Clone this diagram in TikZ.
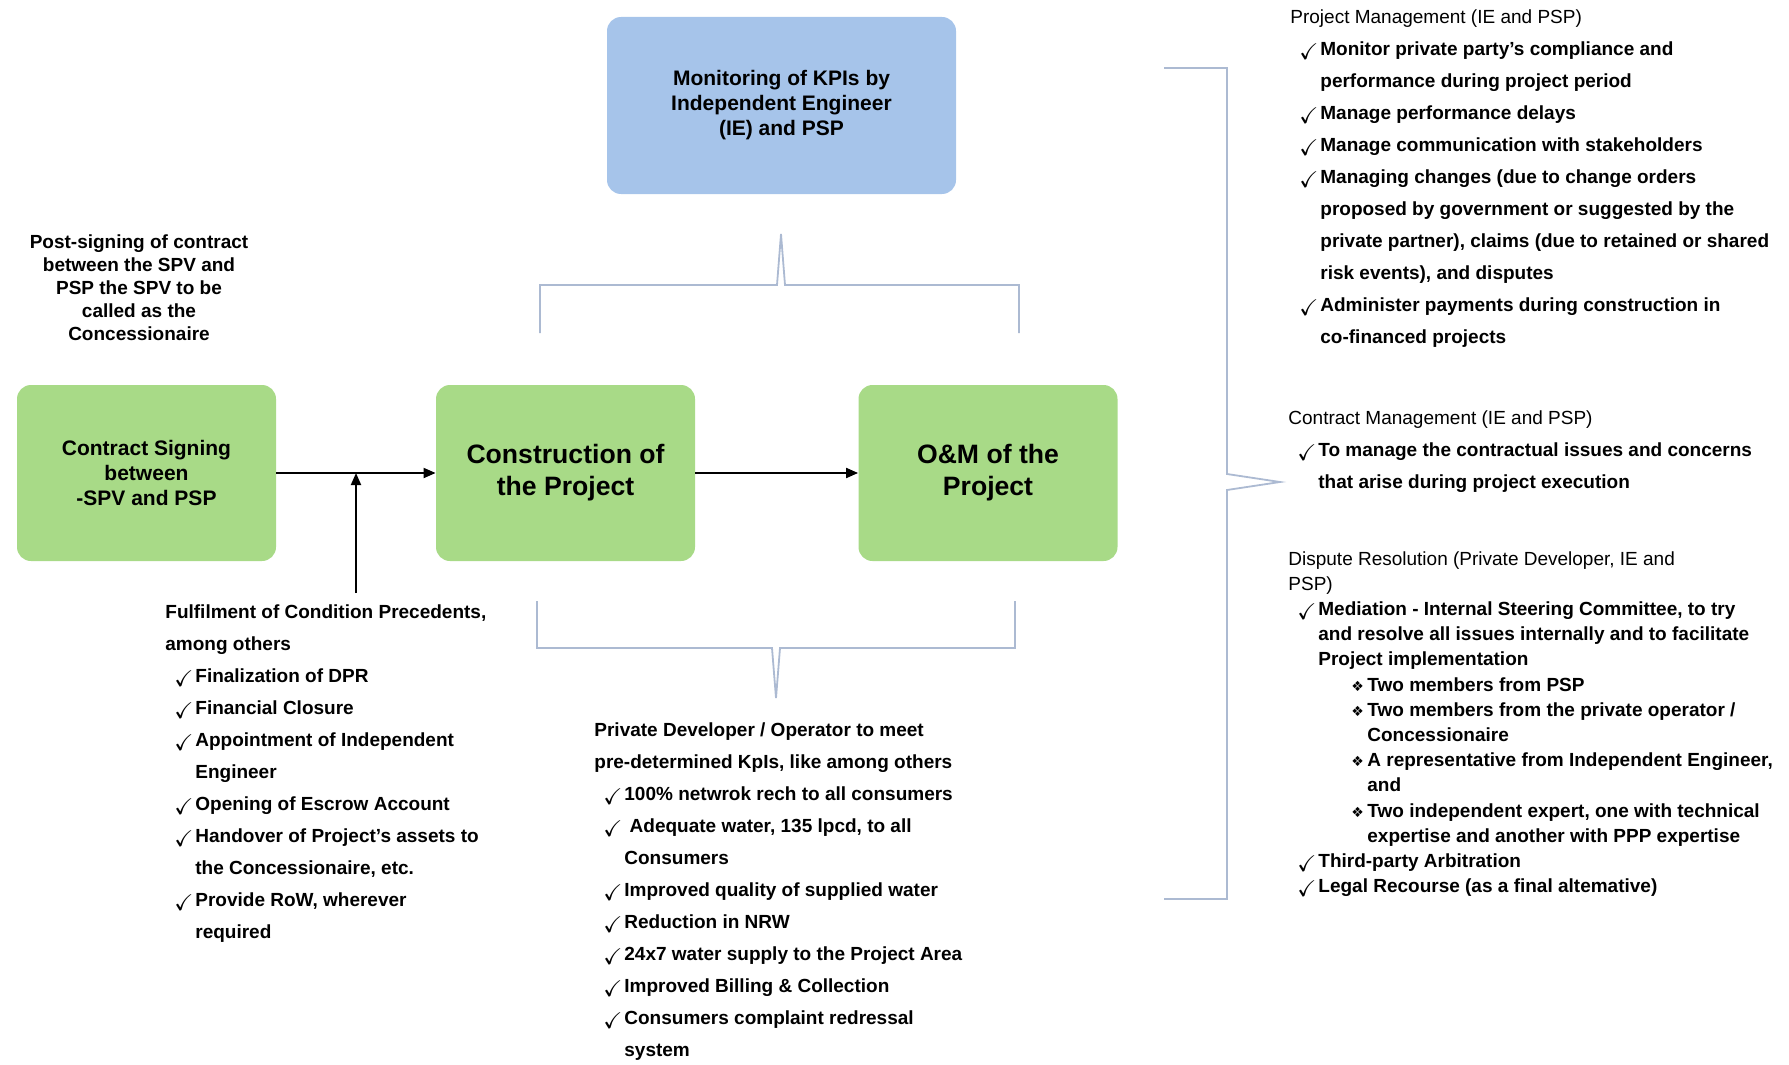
\documentclass[tikz,border=0pt]{standalone}
\usepackage{amssymb}
\usepackage{graphicx}
\usepackage{fontspec}
\setmainfont{Liberation Sans}
\newfontfamily\symfont{DejaVu Sans}
\usepackage{tikz}
\usetikzlibrary{positioning, arrows.meta}

\definecolor{stagegreen}{RGB}{168,218,135}
\definecolor{kpiblue}{RGB}{166,196,234}
\definecolor{bracketgray}{RGB}{172,186,210}

% list helpers
\newcommand{\chk}{\hspace*{4.5pt}\makebox[10.5pt][l]{\raisebox{-2pt}{\scalebox{1.2}{$\checkmark$}}}}
\newcommand{\cnt}{\hspace*{15pt}}
\newcommand{\dia}{\hspace*{31.5pt}\makebox[8pt][l]{\symfont\scriptsize ❖}}
\newcommand{\dcnt}{\hspace*{39.5pt}}

\begin{document}
\begin{tikzpicture}[x=0.5pt, y=-0.5pt,
    stagebox/.style={fill=stagegreen, rounded corners=7pt, minimum width=129.5pt, minimum height=88pt, align=center, font=\fontsize{13.3}{16}\selectfont\bfseries},
    kpibox/.style={fill=kpiblue, rounded corners=7pt, minimum width=174.5pt, minimum height=88.5pt, align=center, font=\fontsize{10.5}{12.5}\selectfont\bfseries},
    listnote/.style={anchor=north west, inner sep=0pt, align=left, font=\fontsize{9.5}{16}\selectfont\bfseries},
    flow/.style={line width=0.9pt, -{Triangle[length=6pt, width=5pt]}},
    brk/.style={draw=bracketgray, line width=0.9pt}
]
\useasboundingbox (0,0) rectangle (1789,1065);

\node[kpibox] (kpi) at (781.5,105.5) {Monitoring of KPIs by\\Independent Engineer\\(IE) and PSP};
\node[stagebox, font=\fontsize{10.5}{12.5}\selectfont\bfseries] (sign) at (146.5,473) {Contract Signing\\between\\-SPV and PSP};
\node[stagebox] (build) at (565.5,473) {Construction of\\the Project};
\node[stagebox] (operate) at (988,473) {O\&M of the\\Project};

\node[anchor=north, inner sep=0pt, align=center, font=\fontsize{9.5}{11.5}\selectfont\bfseries] (postnote) at (139,234)
    {Post-signing of contract\\between the SPV and\\PSP the SPV to be\\called as the\\Concessionaire};

\node[listnote] (cpnote) at (165,604) {%
Fulfilment of Condition Precedents,\\
among others\\
\chk Finalization of DPR\\
\chk Financial Closure\\
\chk Appointment of Independent\\
\cnt Engineer\\
\chk Opening of Escrow Account\\
\chk Handover of Project's assets to\\
\cnt the Concessionaire, etc.\\
\chk Provide RoW, wherever\\
\cnt required};

\node[listnote] (kpinote) at (594,722) {%
Private Developer / Operator to meet\\
pre-determined KpIs, like among others\\
\chk 100\% netwrok rech to all consumers\\
\chk \ Adequate water, 135 lpcd, to all\\
\cnt Consumers\\
\chk Improved quality of supplied water\\
\chk Reduction in NRW\\
\chk 24x7 water supply to the Project Area\\
\chk Improved Billing \& Collection\\
\chk Consumers complaint redressal\\
\cnt system};

\node[listnote] (pmnote) at (1290,9) {%
\textmd{Project Management (IE and PSP)}\\
\chk Monitor private party's compliance and\\
\cnt performance during project period\\
\chk Manage performance delays\\
\chk Manage communication with stakeholders\\
\chk Managing changes (due to change orders\\
\cnt proposed by government or suggested by the\\
\cnt private partner), claims (due to retained or shared\\
\cnt risk events), and disputes\\
\chk Administer payments during construction in\\
\cnt co-financed projects};

\node[listnote] (cmnote) at (1288,410) {%
\textmd{Contract Management (IE and PSP)}\\
\chk To manage the contractual issues and concerns\\
\cnt that arise during project execution};

\node[listnote, font=\fontsize{9.5}{12.6}\selectfont\bfseries] (drnote) at (1288,551) {%
\textmd{Dispute Resolution (Private Developer, IE and}\\
\textmd{PSP)}\\
\chk Mediation - Internal Steering Committee, to try\\
\cnt and resolve all issues internally and to facilitate\\
\cnt Project implementation\\
\dia Two members from PSP\\
\dia Two members from the private operator /\\
\dcnt Concessionaire\\
\dia A representative from Independent Engineer,\\
\dcnt and\\
\dia Two independent expert, one with technical\\
\dcnt expertise and another with PPP expertise\\
\chk Third-party Arbitration\\
\chk Legal Recourse (as a final altemative)};

% flow arrows
\coordinate (cpjoin) at (356,593);
\draw[flow] (sign) -- (build);
\draw[flow] (build) -- (operate);
\draw[flow] (cpjoin) -- (cpjoin |- sign.east);

% brackets
\draw[brk] (540,333) -- (540,285) -- (777,285) -- (781,234) -- (785,285) -- (1019,285) -- (1019,333);
\draw[brk] (537,601) -- (537,648) -- (772,648) -- (776,698) -- (780,648) -- (1015,648) -- (1015,601);
\draw[brk] (1164,68) -- (1227,68) -- (1227,474) -- (1280,482) -- (1227,490) -- (1227,899) -- (1164,899);
\end{tikzpicture}
\end{document}
